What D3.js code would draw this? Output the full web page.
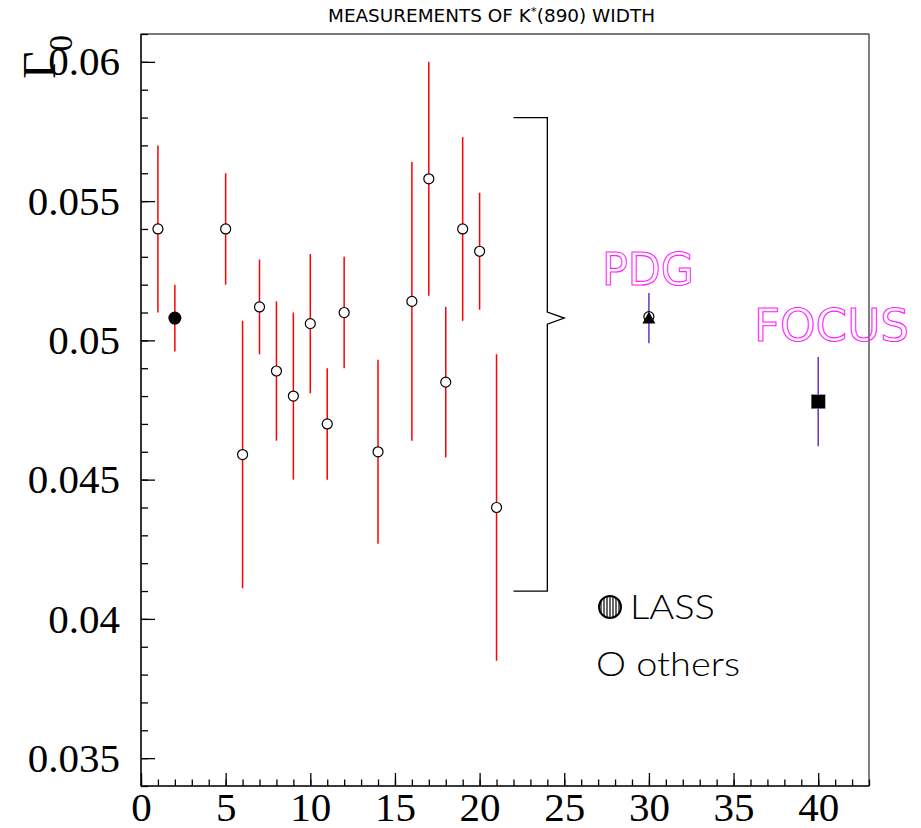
<!DOCTYPE html>
<html>
<head>
<meta charset="utf-8">
<style type="text/css">
html, body{
	padding: 0;
	margin: 0;
	background: white;
}
</style>
</head>
<body>
<svg width=921 height=828></svg>

<script src="https://cdn.jsdelivr.net/npm/d3@7"></script>
<script type="text/javascript">
	// other experiments (open circles)
	var otherX   = [1, 5, 6, 7, 8, 9, 10, 11, 12, 14, 16, 17, 18, 19, 20, 21];
	var otherVal = [0.054, 0.054, 0.0459, 0.0512, 0.0489, 0.048, 0.0506, 0.047, 0.051, 0.046, 0.0514, 0.0558, 0.0485, 0.054, 0.0532, 0.044];
	var otherErr = [0.003, 0.002, 0.0048, 0.0017, 0.0025, 0.003, 0.0025, 0.002, 0.002, 0.0033, 0.005, 0.0042, 0.0027, 0.0033, 0.0021, 0.0055];

	// LASS, PDG, FOCUS
	var lass  = {x: 2,  val: 0.0508, err: 0.0012};
	var pdg   = {x: 30, val: 0.0508, err: 0.0009};
	var focus = {x: 40, val: 0.0478, err: 0.0016};

	// bracket grouping the measurements
	var bracketX = [22, 24, 25];
	var bracketY = [0.041, 0.058, 0.0508];

	var xMajor = [0, 5, 10, 15, 20, 25, 30, 35, 40];
	var yMajor = [0.035, 0.04, 0.045, 0.05, 0.055, 0.06];
	var yLabels = ['0.035', '0.04', '0.045', '0.05', '0.055', '0.06'];

	var svg = d3.select('svg');
	var x = d3.scaleLinear().domain([0, 43]).range([141, 869]);
	var y = d3.scaleLinear().domain([0.034, 0.061]).range([786, 34]);

	var defs = svg.append('defs');
	var pat = defs.append('pattern').attr('id','hatch').attr('patternUnits','userSpaceOnUse')
		.attr('width',3).attr('height',3);
	pat.append('rect').attr('width',3).attr('height',3).attr('fill','white');
	pat.append('line').attr('x1',1).attr('x2',1).attr('y1',0).attr('y2',3).attr('stroke','black').attr('stroke-width',1.2);

	// frame
	svg.append('rect').attr('x',x(0)).attr('y',y(0.061)).attr('width',x(43)-x(0)).attr('height',y(0.034)-y(0.061))
		.attr('fill','none').attr('stroke','black').attr('stroke-width',1);
	svg.append('line').attr('x1',x(0)).attr('x2',x(43)).attr('y1',y(0.061)).attr('y2',y(0.061))
		.attr('stroke','#777').attr('stroke-width',1.5);
	svg.append('line').attr('x1',x(0)).attr('x2',x(0)).attr('y1',y(0.061)).attr('y2',y(0.034))
		.attr('stroke','#333').attr('stroke-width',2);
	svg.append('line').attr('x1',x(0)).attr('x2',x(43)).attr('y1',y(0.034)).attr('y2',y(0.034))
		.attr('stroke','#222').attr('stroke-width',1.5);

	// y axis
	var yMinor = d3.range(34, 62).map(d=>d/1000);
	svg.append('g').attr('transform','translate('+x(0)+',0)')
		.call(d3.axisLeft(y).tickValues(yMinor).tickSize(-7).tickSizeOuter(0).tickFormat(''))
		.call(g=>g.select('.domain').remove());
	svg.append('g').attr('class','yaxis').attr('transform','translate('+x(0)+',0)')
		.call(d3.axisLeft(y).tickValues(yMajor).tickSize(-14).tickSizeOuter(0).tickPadding(21)
			.tickFormat((d,i)=>yLabels[i]))
		.call(g=>g.select('.domain').remove());

	// x axis
	var xMinor = d3.range(0, 44);
	svg.append('g').attr('transform','translate(0,'+y(0.034)+')')
		.call(d3.axisBottom(x).tickValues(xMinor).tickSize(-6.5).tickSizeOuter(0).tickFormat(''))
		.call(g=>g.select('.domain').remove());
	svg.append('g').attr('class','xaxis').attr('transform','translate(0,'+y(0.034)+')')
		.call(d3.axisBottom(x).tickValues(xMajor).tickSize(-13).tickSizeOuter(0).tickPadding(6))
		.call(g=>g.select('.domain').remove());
	svg.selectAll('.tick line').attr('stroke','black').attr('stroke-width',1.3);
	svg.selectAll('.yaxis text, .xaxis text')
		.style('font-family','"Liberation Serif", serif').style('font-size','41px').attr('fill','black');

	// title
	var t = svg.append('text').attr('x',328).attr('y',22)
		.style('font-family','"DejaVu Sans", sans-serif').style('font-size','17px')
		.attr('textLength',327).attr('lengthAdjust','spacingAndGlyphs');
	t.append('tspan').text('MEASUREMENTS OF K');
	t.append('tspan').attr('font-size','11px').attr('dy',-7).text('*');
	t.append('tspan').attr('dy',7).text('(890) WIDTH');

	// y title
	var yt = svg.append('text').attr('transform','translate(55,35) rotate(-90)').attr('text-anchor','end')
		.style('font-family','"Liberation Serif", serif');
	yt.append('tspan').style('font-size','47px').text('Γ');
	yt.append('tspan').style('font-size','33px').attr('dy',17).text('0');

	// bracket
	svg.append('path').attr('fill','none').attr('stroke','black').attr('stroke-width',1.3)
		.attr('d', 'M'+x(bracketX[0])+','+y(bracketY[1])+'H'+x(bracketX[1])+'V'+(y(bracketY[2])-6)
			+'L'+x(bracketX[2])+','+y(bracketY[2])+'L'+x(bracketX[1])+','+(y(bracketY[2])+6)
			+'V'+y(bracketY[0])+'H'+x(bracketX[0]));

	// error bars, others
	var others = otherX.map((d,p)=>({x:d, val:otherVal[p], err:otherErr[p]}));
	svg.selectAll('line.err').data(others.concat([lass])).enter().append('line').attr('class','err')
		.attr('x1',d=>x(d.x)).attr('x2',d=>x(d.x))
		.attr('y1',d=>y(d.val+d.err)).attr('y2',d=>y(d.val-d.err))
		.attr('stroke','red').attr('stroke-width',1.5);
	svg.selectAll('circle.other').data(others).enter().append('circle').attr('class','other')
		.attr('cx',d=>x(d.x)).attr('cy',d=>y(d.val)).attr('r',5)
		.attr('fill','white').attr('stroke','black').attr('stroke-width',1.2);
	svg.append('circle').attr('cx',x(lass.x)).attr('cy',y(lass.val)).attr('r',6.5).attr('fill','black');

	// PDG and FOCUS
	[pdg, focus].forEach(d=>{
		svg.append('line').attr('x1',x(d.x)).attr('x2',x(d.x))
			.attr('y1',y(d.val+d.err)).attr('y2',y(d.val-d.err))
			.attr('stroke','#6633cc').attr('stroke-width',1.5);
	});
	svg.append('circle').attr('cx',x(pdg.x)).attr('cy',y(pdg.val)-1.5).attr('r',5)
		.attr('fill','white').attr('stroke','black').attr('stroke-width',1.2);
	svg.append('path').attr('d','M0,-7L6.5,5L-6.5,5Z')
		.attr('transform','translate('+x(pdg.x)+','+(y(pdg.val)+0.5)+')').attr('fill','black');
	svg.append('rect').attr('x',x(focus.x)-7).attr('y',y(focus.val)-7).attr('width',14).attr('height',14)
		.attr('fill','black').attr('stroke','#999').attr('stroke-width',0.5);

	svg.append('text').attr('x',602).attr('y',285).text('PDG')
		.style('font-family','"DejaVu Sans", sans-serif').style('font-size','45px')
		.attr('textLength',92).attr('lengthAdjust','spacingAndGlyphs')
		.attr('fill','none').attr('stroke','#ff22ff').attr('stroke-width',1.1);
	svg.append('text').attr('x',754).attr('y',341).text('FOCUS')
		.style('font-family','"DejaVu Sans", sans-serif').style('font-size','45px')
		.attr('textLength',155).attr('lengthAdjust','spacingAndGlyphs')
		.attr('fill','none').attr('stroke','#ff22ff').attr('stroke-width',1.1);

	// legend
	svg.append('circle').attr('cx',610).attr('cy',607).attr('r',11)
		.attr('fill','url(#hatch)').attr('stroke','black').attr('stroke-width',2);
	svg.append('text').attr('x',630).attr('y',619).text('LASS')
		.style('font-family','Lato, sans-serif').style('font-weight',300).style('font-size','33px')
		.attr('textLength',85).attr('lengthAdjust','spacingAndGlyphs');
	svg.append('text').attr('x',596).attr('y',676).text('O others')
		.style('font-family','Lato, sans-serif').style('font-weight',300).style('font-size','33px')
		.attr('textLength',144).attr('lengthAdjust','spacingAndGlyphs');
</script>
</body>
</html>
